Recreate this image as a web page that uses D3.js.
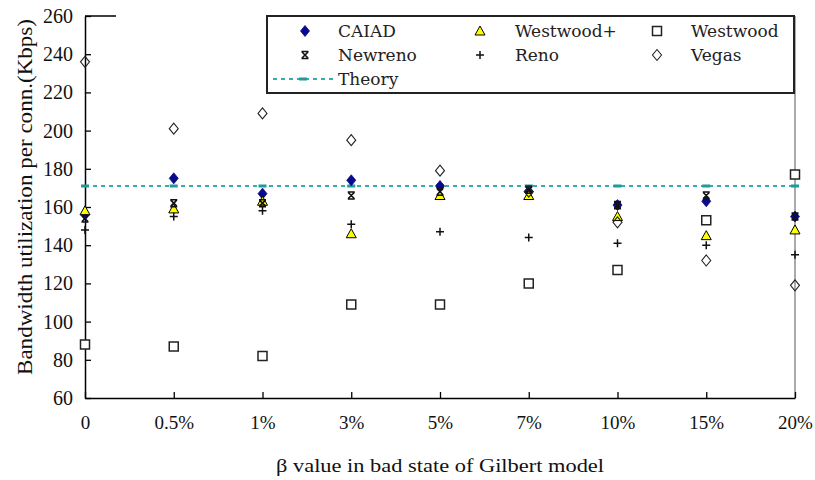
<!DOCTYPE html>
<html>
<head>
<meta charset="utf-8">
<script src="https://cdn.jsdelivr.net/npm/d3@7"></script>
<style>
  html, body { margin: 0; padding: 0; background: #fff; }
  svg { display: block; }
</style>
</head>
<body>
<svg id="chart" width="815" height="480"></svg>
<script>
// Bandwidth utilization per connection for each TCP variant vs. Gilbert-model beta
const categories = ["0", "0.5%", "1%", "3%", "5%", "7%", "10%", "15%", "20%"];
const caiad        = [156, 175, 167, 174, 171, 168, 161, 163, 155];
const westwoodPlus = [158, 159, 163, 146, 166, 166, 155, 145, 148];
const westwood     = [88, 87, 82, 109, 109, 120, 127, 153, 177];
const newreno      = [154, 162, 162, 166, 168, 169, 161, 166, 155];
const reno         = [148, 155, 158, 151, 147, 144, 141, 140, 135];
const vegas        = [236, 201, 209, 195, 179, 168, 152, 132, 119];
const theory       = [171, 171, 171, 171, 171, 171, 171, 171, 171];
const yTicks = [60, 80, 100, 120, 140, 160, 180, 200, 220, 240, 260];

const svg = d3.select("#chart");
const plotLeft = 85, plotRight = 795, plotTop = 16, plotBottom = 398;

const x = d3.scalePoint().domain(categories).range([plotLeft, plotRight]);
const y = d3.scaleLinear().domain([60, 260]).range([plotBottom, plotTop]);

const serif = "'Liberation Serif', 'Times New Roman', serif";
const legendFont = "'DejaVu Serif', serif";

// marker shapes
const shapes = {
  diamond: "M0,-5.5L4.5,0L0,5.5L-4.5,0Z",
  openDiamond: "M0,-5.5L4.5,0L0,5.5L-4.5,0Z",
  triangle: "M0,-5L5,4L-5,4Z",
  square: "M-4.5,-4.5H4.5V4.5H-4.5Z",
  cross: "M-3,-3L3,3M3,-3L-3,3M-3.5,-3.5H3.5M-3.5,3.5H3.5",
  plus: "M-4,0H4M0,-4V4"
};

const series = [
  { name: "CAIAD",     values: caiad,        d: shapes.diamond,     fill: "#0a0a8c", stroke: "#0a0a8c", sw: 0.8 },
  { name: "Westwood+", values: westwoodPlus, d: shapes.triangle,    fill: "#ffff00", stroke: "#000", sw: 1 },
  { name: "Westwood",  values: westwood,     d: shapes.square,      fill: "#fff",    stroke: "#222", sw: 1.5 },
  { name: "Newreno",   values: newreno,      d: shapes.cross,       fill: "none",    stroke: "#111", sw: 1.6 },
  { name: "Reno",      values: reno,         d: shapes.plus,        fill: "none",    stroke: "#111", sw: 1.5 },
  { name: "Vegas",     values: vegas,        d: shapes.openDiamond, fill: "none",    stroke: "#222", sw: 1.1 }
];

// right frame edge (light gray)
svg.append("line")
  .attr("x1", plotRight).attr("x2", plotRight)
  .attr("y1", y(260)).attr("y2", plotBottom)
  .attr("stroke", "#aaa").attr("stroke-width", 2);

// short top frame segment
svg.append("line")
  .attr("x1", plotLeft).attr("x2", 116)
  .attr("y1", plotTop).attr("y2", plotTop)
  .attr("stroke", "#000").attr("stroke-width", 1.5);

// y axis
const yAxis = svg.append("g")
  .attr("transform", `translate(${plotLeft},0)`)
  .call(d3.axisLeft(y).tickValues(yTicks).tickSize(-6).tickSizeOuter(0).tickPadding(12));
yAxis.select(".domain").attr("stroke", "#000").attr("stroke-width", 1.5);
yAxis.selectAll(".tick line").attr("stroke", "#000").attr("stroke-width", 1.3);
yAxis.selectAll(".tick text")
  .attr("font-family", serif).attr("font-size", 20).attr("fill", "#111");

// x axis
const xAxis = svg.append("g")
  .attr("transform", `translate(0,${plotBottom})`)
  .call(d3.axisBottom(x).tickSize(-6).tickSizeOuter(0).tickPadding(18));
xAxis.select(".domain").attr("stroke", "#000").attr("stroke-width", 1.5);
xAxis.selectAll(".tick line").attr("stroke", "#000").attr("stroke-width", 1.3);
xAxis.selectAll(".tick text")
  .attr("font-family", serif).attr("font-size", 19).attr("fill", "#111");

// theory reference line
const theoryColor = "#3aacac";
svg.append("path")
  .datum(theory)
  .attr("d", d3.line().x((d, i) => x(categories[i])).y(d => y(d)))
  .attr("fill", "none")
  .attr("stroke", theoryColor).attr("stroke-width", 2)
  .attr("stroke-dasharray", "4,4");
svg.append("g").selectAll("rect")
  .data(theory)
  .join("rect")
  .attr("x", (d, i) => x(categories[i]) - 4)
  .attr("y", d => y(d) - 1.5)
  .attr("width", 8).attr("height", 3)
  .attr("fill", "#1e9b9b");

// data markers
series.forEach(s => {
  svg.append("g").selectAll("path")
    .data(s.values)
    .join("path")
    .attr("transform", (d, i) => `translate(${x(categories[i])},${y(d)})`)
    .attr("d", s.d)
    .attr("fill", s.fill)
    .attr("stroke", s.stroke)
    .attr("stroke-width", s.sw);
});

// legend
const legend = svg.append("g");
legend.append("rect")
  .attr("x", 267).attr("y", plotTop).attr("width", 527).attr("height", 77)
  .attr("fill", "#fff").attr("stroke", "#222").attr("stroke-width", 2);

const colMarker = [305, 480, 657];
const colText = [338, 515, 691];
const rowY = [31, 55];
series.forEach((s, i) => {
  const r = Math.floor(i / 3), c = i % 3;
  legend.append("path")
    .attr("transform", `translate(${colMarker[c]},${rowY[r]})`)
    .attr("d", s.d)
    .attr("fill", s.fill).attr("stroke", s.stroke).attr("stroke-width", s.sw);
  legend.append("text")
    .attr("x", colText[c]).attr("y", rowY[r] + 6)
    .attr("font-family", legendFont).attr("font-size", 17).attr("fill", "#222")
    .text(s.name);
});
legend.append("line")
  .attr("x1", 273).attr("x2", 334).attr("y1", 79).attr("y2", 79)
  .attr("stroke", theoryColor).attr("stroke-width", 2).attr("stroke-dasharray", "4,4");
legend.append("rect")
  .attr("x", 299).attr("y", 77.5).attr("width", 8).attr("height", 3).attr("fill", "#1e9b9b");
legend.append("text")
  .attr("x", 338).attr("y", 85)
  .attr("font-family", legendFont).attr("font-size", 17).attr("fill", "#222")
  .text("Theory");

// axis titles
svg.append("text")
  .attr("transform", "translate(32,197) rotate(-90)")
  .attr("text-anchor", "middle")
  .attr("font-family", serif).attr("font-size", 20).attr("fill", "#111")
  .attr("textLength", 356).attr("lengthAdjust", "spacingAndGlyphs")
  .text("Bandwidth utilization per conn.(Kbps)");

svg.append("text")
  .attr("x", 440).attr("y", 472)
  .attr("text-anchor", "middle")
  .attr("font-family", serif).attr("font-size", 19).attr("fill", "#111")
  .attr("textLength", 328).attr("lengthAdjust", "spacingAndGlyphs")
  .text("β value in bad state of Gilbert model");
</script>
</body>
</html>
